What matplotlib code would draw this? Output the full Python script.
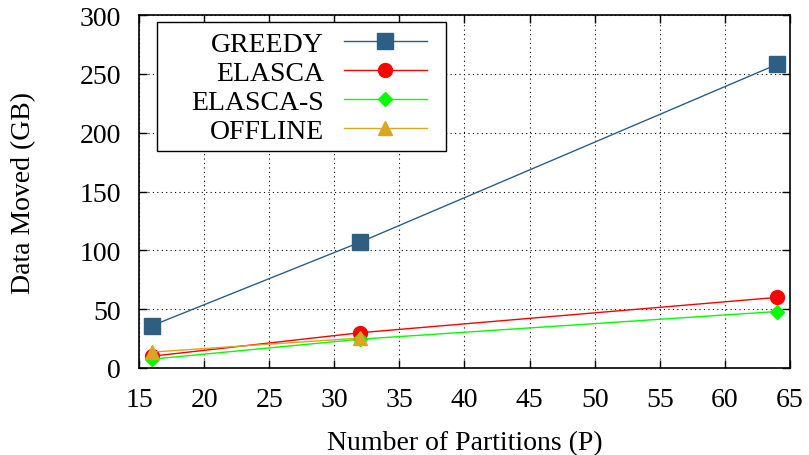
import matplotlib.pyplot as plt
from matplotlib.patches import Rectangle

# Data
partitions = [16, 32, 64]
greedy = [36, 107, 258]
elasca = [10, 30, 60]
elasca_s = [7.5, 24.5, 48]
offline_p = [16, 32]
offline = [13.5, 25.5]

plt.rcParams['font.family'] = ['Liberation Serif', 'DejaVu Serif']
plt.rcParams['font.size'] = 20

fig = plt.figure(figsize=(8.09, 4.56), dpi=100)
ax = fig.add_axes([0.1718, 0.1908, 0.8047, 0.7741])

ax.plot(partitions, greedy, color='#2e5f82', lw=1, marker='s', ms=11, label='GREEDY')
ax.plot(partitions, elasca, color='#ff0000', lw=1, marker='o', ms=10, label='ELASCA')
ax.plot(partitions, elasca_s, color='#00ff00', lw=1, marker='D', ms=7, label='ELASCA-S')
ax.plot(offline_p, offline, color='#daa520', lw=1, marker='^', ms=10, label='OFFLINE')

ax.set_xlim(15, 65)
ax.set_ylim(0, 300)
ax.set_xticks(range(15, 66, 5))
ax.set_yticks(range(0, 301, 50))
ax.grid(True, color='black', linestyle=(0, (1, 3)), lw=0.8)
ax.tick_params(direction='in', top=True, right=True, length=6, width=1)
ax.tick_params(axis='y', pad=13)
ax.tick_params(axis='x', pad=14)
for s in ax.spines.values():
    s.set_linewidth(1.2)

ax.set_xlabel('Number of Partitions (P)', labelpad=13)
ax.set_ylabel('Data Moved (GB)', labelpad=31)

# legend frame (gnuplot style box, wider on the left)
ax.add_patch(Rectangle((0.0276, 0.615), 0.444, 0.365, transform=ax.transAxes,
                       facecolor='white', edgecolor='black', lw=1, zorder=4))
leg = ax.legend(loc='center right', bbox_to_anchor=(0.464, 0.795), markerfirst=False,
                handlelength=3.0, frameon=False, borderpad=0, labelspacing=0.13,
                handletextpad=0.72, fontsize=20)
leg.set_zorder(5)
for t in leg.get_texts():
    t.set_ha('right')
leg._legend_box.align = 'right'

fig.savefig('out.png', dpi=100)
